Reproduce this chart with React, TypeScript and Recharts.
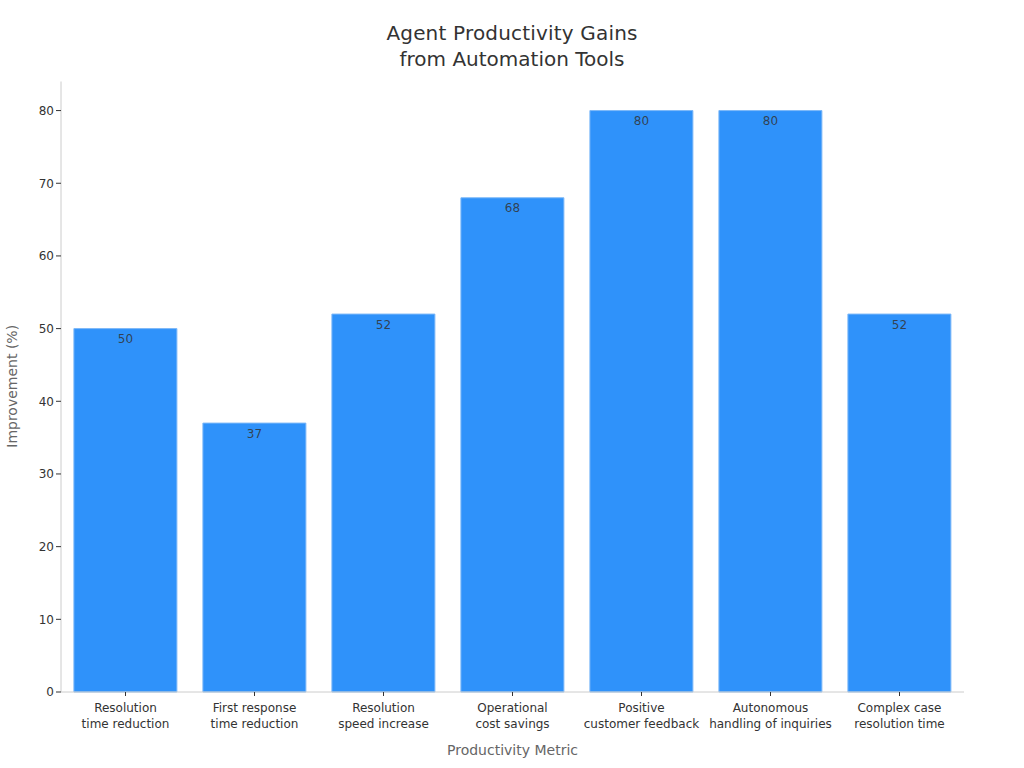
import { Bar, BarChart, LabelList, XAxis, YAxis } from 'recharts';

const firstLines = ['Resolution', 'First response', 'Resolution', 'Operational', 'Positive', 'Autonomous', 'Complex case'];
const secondLines = ['time reduction', 'time reduction', 'speed increase', 'cost savings', 'customer feedback', 'handling of inquiries', 'resolution time'];
const improvement = [50, 37, 52, 68, 80, 80, 52];
const yTicks = [0, 10, 20, 30, 40, 50, 60, 70, 80];

const data = firstLines.map((line, i) => ({
  metric: line + '\n' + secondLines[i],
  value: improvement[i],
}));

const font = '"DejaVu Sans", sans-serif';

// x軸ラベルは2行で描く
function MetricTick({ x, y, payload }: any) {
  const [a, b] = payload.value.split('\n');
  return (
    <text x={x} y={y} textAnchor="middle" fontSize={12} fontFamily={font} fill="#333">
      <tspan x={x} dy={14}>{a}</tspan>
      <tspan x={x} dy={16}>{b}</tspan>
    </text>
  );
}

export default function App() {
  return (
    <div style={{ position: 'absolute', left: 0, top: 0, width: 1024, height: 768, background: '#fff', fontFamily: font }}>
      <div style={{ position: 'absolute', top: 20, left: 0, width: 1024, textAlign: 'center', fontSize: 20, lineHeight: '26px', color: '#333' }}>
        <span style={{ letterSpacing: 0.18 }}>Agent Productivity Gains</span><br />from Automation Tools
      </div>
      <BarChart
        width={1024}
        height={768}
        data={data}
        barCategoryGap="10%"
        margin={{ top: 81.5, right: 60, left: 1, bottom: 0 }}
      >
        <XAxis
          dataKey="metric"
          height={76}
          interval={0}
          tick={MetricTick}
          tickSize={4}
          axisLine={{ stroke: '#ccc' }}
          tickLine={{ stroke: '#333' }}
          label={{ value: 'Productivity Metric', position: 'insideBottom', offset: 13, fontSize: 14, fontFamily: font, fill: '#666' }}
        />
        <YAxis
          width={60}
          domain={[0, 84]}
          ticks={yTicks}
          tickSize={5}
          tick={{ fontSize: 12, fontFamily: font, fill: '#333' }}
          axisLine={{ stroke: '#ccc' }}
          tickLine={{ stroke: '#333' }}
          label={{ value: 'Improvement (%)', angle: -90, position: 'insideLeft', offset: 11, dy: 61, fontSize: 14, fontFamily: font, fill: '#666' }}
        />
        <Bar dataKey="value" fill="#2f92fa" stroke="#7db8f8" strokeWidth={1} isAnimationActive={false}>
          <LabelList dataKey="value" position="insideTop" offset={6} fontSize={12} fontFamily={font} fill="#333" fillOpacity={0.85} />
        </Bar>
      </BarChart>
    </div>
  );
}
